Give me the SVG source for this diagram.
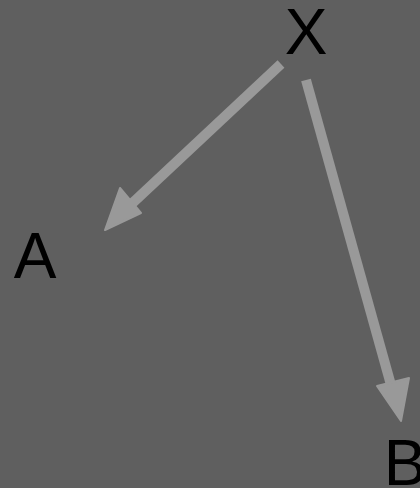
<svg xmlns="http://www.w3.org/2000/svg" width="420" height="488" viewBox="0 0 420 488">
<style>
.lbl{font-family:"Liberation Sans",Arial,sans-serif;font-size:64px;fill:#000;text-anchor:middle}
.edge{stroke:#999999;stroke-width:10;fill:none}
.head{fill:#999999;stroke:#999999;stroke-width:2;stroke-linejoin:round}
</style>
<rect width="420" height="488" fill="#5f5f5f"/>
<g id="connectors">
<line class="edge" x1="281" y1="64" x2="124" y2="211"/>
<polygon class="head" points="105,230 120,188 141,213"/>
<line class="edge" x1="306" y1="80" x2="391" y2="385"/>
<polygon class="head" points="401,421 377,386 409,378"/>
</g>
<g id="X"><text class="lbl" x="306" y="54">X</text></g>
<g id="A"><text class="lbl" x="35" y="278">A</text></g>
<g id="B"><text class="lbl" x="405" y="485">B</text></g>
</svg>
